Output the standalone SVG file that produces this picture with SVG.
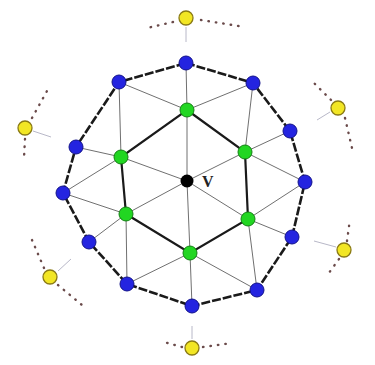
<svg xmlns="http://www.w3.org/2000/svg" width="375" height="365" viewBox="0 0 375 365">
<style>
.outer{stroke:#1a1a1a;stroke-width:2.6;stroke-dasharray:9,2;fill:none}
.hex{stroke:#1a1a1a;stroke-width:2.2;fill:none}
.thin{stroke:#707070;stroke-width:1;fill:none}
.dot{stroke:#6a4a4a;stroke-width:2.4;stroke-dasharray:0.5,7;stroke-linecap:round;fill:none}
.faint{stroke:#b8b8c8;stroke-width:1;fill:none}
.blue{fill:#2424e0;stroke:#12128a;stroke-width:1}
.green{fill:#22d622;stroke:#138013;stroke-width:1}
.yellow{fill:#f2e624;stroke:#8a7a14;stroke-width:1.3}
.black{fill:#000}
text{font-family:"Liberation Serif",serif;font-size:16px;font-weight:bold;fill:#222}
</style>
<g id="connectors">
<polygon class="outer" points="186,63 253,83 290,131 305,182 292,237 257,290 192,306 127,284 89,242 63,193 76,147 119,82"/>
<g>
<line class="thin" x1="187" y1="181" x2="187" y2="110"/>
<line class="thin" x1="187" y1="181" x2="245" y2="152"/>
<line class="thin" x1="187" y1="181" x2="248" y2="219"/>
<line class="thin" x1="187" y1="181" x2="190" y2="253"/>
<line class="thin" x1="187" y1="181" x2="126" y2="214"/>
<line class="thin" x1="187" y1="181" x2="121" y2="157"/>
<line class="thin" x1="187" y1="110" x2="119" y2="82"/>
<line class="thin" x1="187" y1="110" x2="186" y2="63"/>
<line class="thin" x1="187" y1="110" x2="253" y2="83"/>
<line class="thin" x1="245" y1="152" x2="253" y2="83"/>
<line class="thin" x1="245" y1="152" x2="290" y2="131"/>
<line class="thin" x1="245" y1="152" x2="305" y2="182"/>
<line class="thin" x1="248" y1="219" x2="305" y2="182"/>
<line class="thin" x1="248" y1="219" x2="292" y2="237"/>
<line class="thin" x1="248" y1="219" x2="257" y2="290"/>
<line class="thin" x1="190" y1="253" x2="257" y2="290"/>
<line class="thin" x1="190" y1="253" x2="192" y2="306"/>
<line class="thin" x1="190" y1="253" x2="127" y2="284"/>
<line class="thin" x1="126" y1="214" x2="127" y2="284"/>
<line class="thin" x1="126" y1="214" x2="89" y2="242"/>
<line class="thin" x1="126" y1="214" x2="63" y2="193"/>
<line class="thin" x1="121" y1="157" x2="63" y2="193"/>
<line class="thin" x1="121" y1="157" x2="76" y2="147"/>
<line class="thin" x1="121" y1="157" x2="119" y2="82"/>
</g>
<polygon class="hex" points="187,110 245,152 248,219 190,253 126,214 121,157"/>
<g>
<line class="dot" x1="173" y1="22" x2="147" y2="28"/>
<line class="dot" x1="201" y1="20" x2="245" y2="27"/>
<line class="faint" x1="186" y1="27" x2="186" y2="42"/>
<line class="dot" x1="331" y1="100" x2="310" y2="79"/>
<line class="dot" x1="345" y1="118" x2="352" y2="148"/>
<line class="faint" x1="330" y1="112" x2="317" y2="120"/>
<line class="dot" x1="347" y1="241" x2="350" y2="219"/>
<line class="dot" x1="339" y1="259" x2="326" y2="277"/>
<line class="faint" x1="336" y1="247" x2="314" y2="241"/>
<line class="dot" x1="182" y1="347" x2="164" y2="342"/>
<line class="dot" x1="203" y1="347" x2="232" y2="343"/>
<line class="faint" x1="192" y1="339" x2="192" y2="326"/>
<line class="dot" x1="44" y1="268" x2="32" y2="240"/>
<line class="dot" x1="58" y1="285" x2="82" y2="305"/>
<line class="faint" x1="58" y1="271" x2="71" y2="259"/>
<line class="dot" x1="32" y1="118" x2="47" y2="91"/>
<line class="dot" x1="25" y1="139" x2="24" y2="158"/>
<line class="faint" x1="33" y1="131" x2="51" y2="137"/>
</g>
</g>
<g id="n-v"><circle class="black" cx="187" cy="181" r="6.5"/><text x="202" y="187">V</text></g>
<g id="g1"><circle class="green" cx="187" cy="110" r="7"/></g>
<g id="g2"><circle class="green" cx="245" cy="152" r="7"/></g>
<g id="g3"><circle class="green" cx="248" cy="219" r="7"/></g>
<g id="g4"><circle class="green" cx="190" cy="253" r="7"/></g>
<g id="g5"><circle class="green" cx="126" cy="214" r="7"/></g>
<g id="g6"><circle class="green" cx="121" cy="157" r="7"/></g>
<g id="b1"><circle class="blue" cx="186" cy="63" r="7"/></g>
<g id="b2"><circle class="blue" cx="253" cy="83" r="7"/></g>
<g id="b3"><circle class="blue" cx="290" cy="131" r="7"/></g>
<g id="b4"><circle class="blue" cx="305" cy="182" r="7"/></g>
<g id="b5"><circle class="blue" cx="292" cy="237" r="7"/></g>
<g id="b6"><circle class="blue" cx="257" cy="290" r="7"/></g>
<g id="b7"><circle class="blue" cx="192" cy="306" r="7"/></g>
<g id="b8"><circle class="blue" cx="127" cy="284" r="7"/></g>
<g id="b9"><circle class="blue" cx="89" cy="242" r="7"/></g>
<g id="b10"><circle class="blue" cx="63" cy="193" r="7"/></g>
<g id="b11"><circle class="blue" cx="76" cy="147" r="7"/></g>
<g id="b12"><circle class="blue" cx="119" cy="82" r="7"/></g>
<g id="y1"><circle class="yellow" cx="186" cy="18" r="7"/></g>
<g id="y2"><circle class="yellow" cx="338" cy="108" r="7"/></g>
<g id="y3"><circle class="yellow" cx="344" cy="250" r="7"/></g>
<g id="y4"><circle class="yellow" cx="192" cy="348" r="7"/></g>
<g id="y5"><circle class="yellow" cx="50" cy="277" r="7"/></g>
<g id="y6"><circle class="yellow" cx="25" cy="128" r="7"/></g>
</svg>
